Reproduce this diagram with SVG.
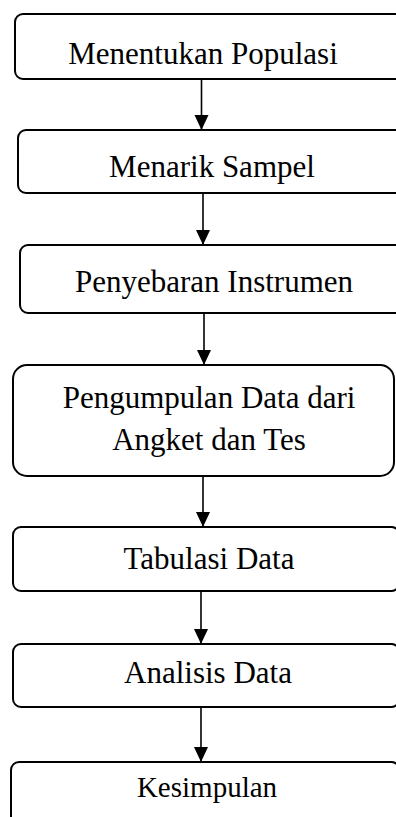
<svg xmlns="http://www.w3.org/2000/svg" width="396" height="817" viewBox="0 0 396 817">
<style>
.box{fill:#fff;stroke:#000;stroke-width:2}
.lbl{font-family:"Liberation Serif","Times New Roman",serif;font-size:31px;fill:#000;text-anchor:middle}
.conn{stroke:#000;stroke-width:1.6;fill:none;marker-end:url(#ah)}
</style>
<defs>
<marker id="ah" markerUnits="userSpaceOnUse" markerWidth="16" markerHeight="16" refX="15" refY="7" orient="auto">
<path d="M0,0 L15,7 L0,14 Z" fill="#000"/>
</marker>
</defs>
<rect width="396" height="817" fill="#fff"/>
<g id="connectors">
<line class="conn" x1="201.5" y1="79" x2="201.5" y2="130"/>
<line class="conn" x1="203" y1="193" x2="203" y2="245"/>
<line class="conn" x1="204" y1="313" x2="204" y2="365"/>
<line class="conn" x1="203" y1="476" x2="203" y2="527"/>
<line class="conn" x1="201" y1="591" x2="201" y2="644"/>
<line class="conn" x1="201" y1="707" x2="201" y2="762"/>
</g>
<g id="n1"><rect class="box" x="15" y="14" width="390" height="65" rx="8"/><text class="lbl" x="203" y="64">Menentukan Populasi</text></g>
<g id="n2"><rect class="box" x="18" y="130" width="387" height="63" rx="8"/><text class="lbl" x="212" y="177">Menarik Sampel</text></g>
<g id="n3"><rect class="box" x="20" y="245" width="385" height="68" rx="8"/><text class="lbl" x="214" y="292">Penyebaran Instrumen</text></g>
<g id="n4"><rect class="box" x="13" y="365" width="381" height="111" rx="14"/><text class="lbl" x="209" y="408">Pengumpulan Data dari</text><text class="lbl" x="209" y="450">Angket dan Tes</text></g>
<g id="n5"><rect class="box" x="13" y="527" width="386.5" height="64" rx="8"/><text class="lbl" x="209" y="569">Tabulasi Data</text></g>
<g id="n6"><rect class="box" x="13" y="644" width="386.5" height="63" rx="8"/><text class="lbl" x="208" y="683">Analisis Data</text></g>
<g id="n7"><rect class="box" x="11" y="762" width="388.5" height="70" rx="8"/><text class="lbl" x="207" y="797" style="font-size:29px">Kesimpulan</text></g>
</svg>
